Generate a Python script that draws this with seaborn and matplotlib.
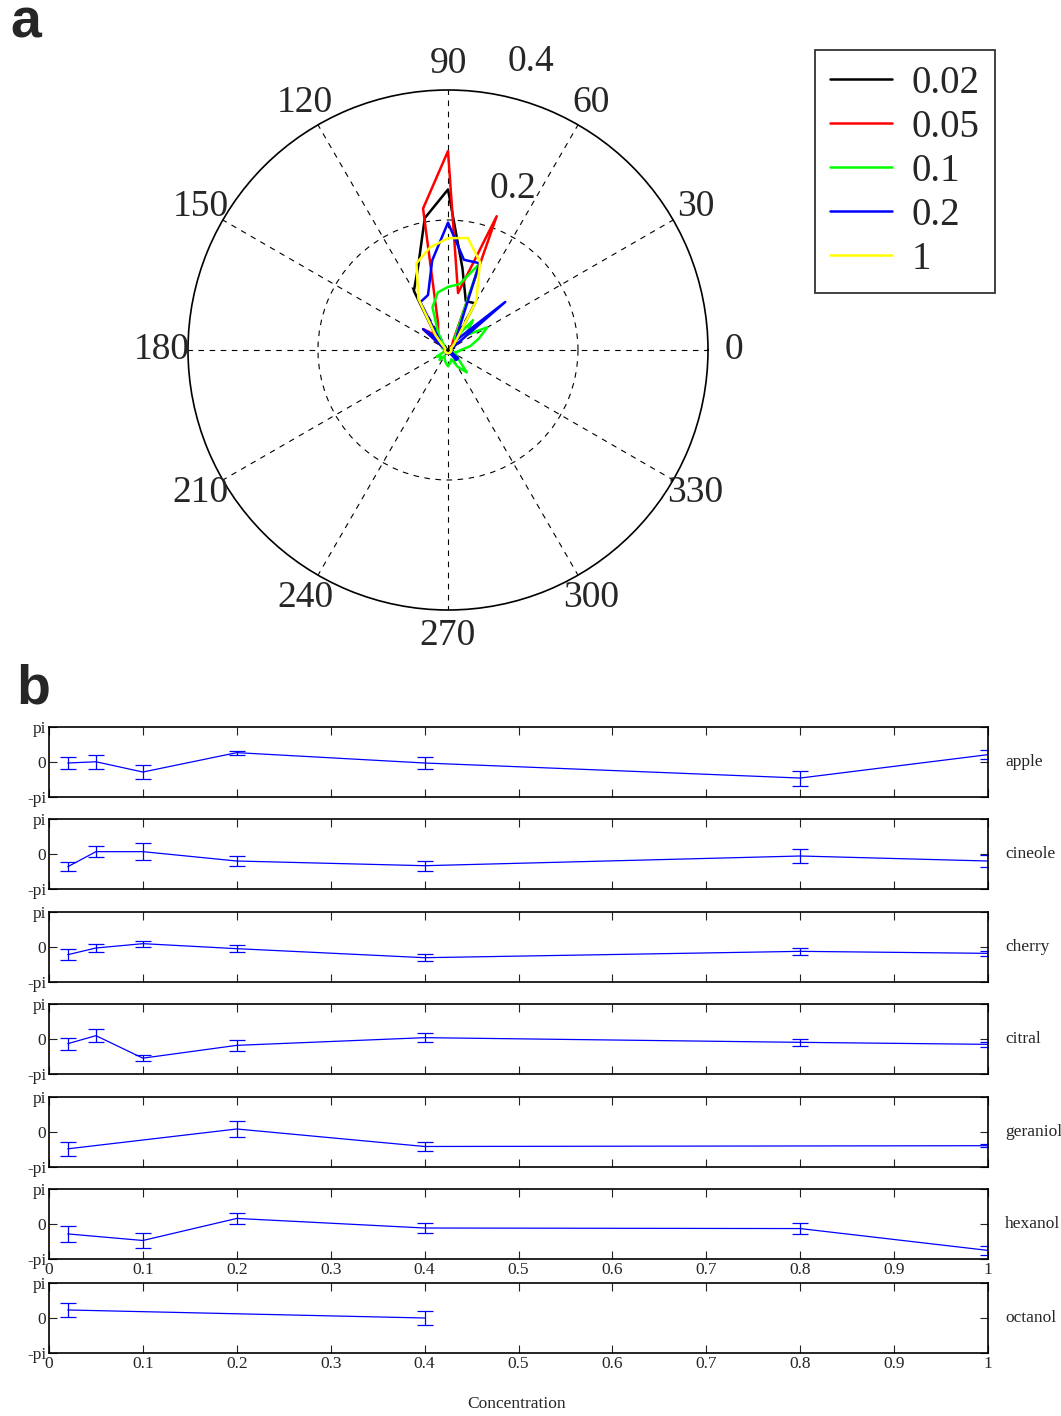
import numpy as np
import pandas as pd
import matplotlib
matplotlib.use("Agg")
import matplotlib.pyplot as plt
from matplotlib.lines import Line2D
import seaborn as sns

# ---------------- data: panel a (polar histogram of directions) ----------------
theta_deg = list(range(0, 360, 10))
series_labels = ["0.02", "0.05", "0.1", "0.2", "1"]
series_colors = ["black", "red", "#00ff00", "blue", "yellow"]

r_002 = [0.005, 0.005, 0.01, 0.01, 0.015, 0.02, 0.083, 0.08, 0.128, 0.247, 0.206, 0.135,
         0.105, 0.03, 0.02, 0.01, 0.005, 0.005, 0.005, 0.005, 0.005, 0.005, 0.005, 0.005,
         0.005, 0.005, 0.005, 0.005, 0.005, 0.005, 0.005, 0.005, 0.005, 0.005, 0.005, 0.005]
r_005 = [0.005, 0.005, 0.005, 0.005, 0.005, 0.01, 0.015, 0.219, 0.089, 0.306, 0.221, 0.045,
         0.03, 0.03, 0.05, 0.01, 0.005, 0.005, 0.005, 0.005, 0.005, 0.005, 0.005, 0.005,
         0.005, 0.005, 0.005, 0.005, 0.005, 0.005, 0.005, 0.005, 0.005, 0.005, 0.005, 0.005]
r_01 = [0.02, 0.035, 0.05, 0.07, 0.035, 0.06, 0.02, 0.141, 0.103, 0.097, 0.09, 0.07,
        0.03, 0.01, 0.02, 0.005, 0.01, 0.005, 0.005, 0.005, 0.005, 0.02, 0.015, 0.02,
        0.01, 0.015, 0.02, 0.025, 0.02, 0.015, 0.03, 0.045, 0.02, 0.015, 0.01, 0.015]
r_02 = [0.005, 0.005, 0.005, 0.01, 0.115, 0.02, 0.03, 0.142, 0.141, 0.196, 0.14, 0.09,
        0.085, 0.02, 0.05, 0.01, 0.005, 0.005, 0.005, 0.005, 0.005, 0.005, 0.005, 0.005,
        0.005, 0.005, 0.005, 0.005, 0.005, 0.005, 0.005, 0.02, 0.02, 0.005, 0.005, 0.005]
r_1 = [0.005, 0.005, 0.005, 0.005, 0.01, 0.02, 0.087, 0.144, 0.175, 0.172, 0.16, 0.142,
       0.091, 0.03, 0.01, 0.005, 0.005, 0.005, 0.005, 0.005, 0.005, 0.005, 0.005, 0.005,
       0.005, 0.005, 0.005, 0.005, 0.005, 0.005, 0.005, 0.005, 0.005, 0.005, 0.005, 0.005]
polar_series = [r_002, r_005, r_01, r_02, r_1]

angle_ticks = list(range(0, 360, 30))
angle_tick_labels = [str(a) for a in angle_ticks]

# ---------------- data: panel b (phase vs concentration) ----------------
odors = ["apple", "cineole", "cherry", "citral", "geraniol", "hexanol", "octanol"]
conc_apple = [0.02, 0.05, 0.1, 0.2, 0.4, 0.8, 1.0]
mean_apple = [-0.09, 0.02, -0.9, 0.84, -0.09, -1.44, 0.66]
err_apple = [0.52, 0.63, 0.64, 0.19, 0.52, 0.67, 0.42]

conc_cineole = [0.02, 0.05, 0.1, 0.2, 0.4, 0.8, 1.0]
mean_cineole = [-1.14, 0.21, 0.21, -0.63, -1.05, -0.18, -0.63]
err_cineole = [0.40, 0.49, 0.79, 0.46, 0.45, 0.60, 0.52]

conc_cherry = [0.02, 0.05, 0.1, 0.2, 0.4, 0.8, 1.0]
mean_cherry = [-0.69, -0.09, 0.30, -0.15, -0.96, -0.39, -0.57]
err_cherry = [0.48, 0.40, 0.26, 0.33, 0.33, 0.33, 0.22]

conc_citral = [0.02, 0.05, 0.1, 0.2, 0.4, 0.8, 1.0]
mean_citral = [-0.42, 0.30, -1.72, -0.57, 0.12, -0.30, -0.48]
err_citral = [0.54, 0.60, 0.24, 0.48, 0.38, 0.30, 0.22]

conc_geraniol = [0.02, 0.2, 0.4, 1.0]
mean_geraniol = [-1.51, 0.27, -1.30, -1.23]
err_geraniol = [0.65, 0.69, 0.44, 0.12]

conc_hexanol = [0.02, 0.1, 0.2, 0.4, 0.8, 1.0]
mean_hexanol = [-0.89, -1.48, 0.50, -0.36, -0.41, -2.37]
err_hexanol = [0.71, 0.70, 0.53, 0.47, 0.49, 0.40]

conc_octanol = [0.02, 0.4]
mean_octanol = [0.72, 0.0]
err_octanol = [0.61, 0.61]

panel_conc = [conc_apple, conc_cineole, conc_cherry, conc_citral, conc_geraniol, conc_hexanol, conc_octanol]
panel_mean = [mean_apple, mean_cineole, mean_cherry, mean_citral, mean_geraniol, mean_hexanol, mean_octanol]
panel_err = [err_apple, err_cineole, err_cherry, err_citral, err_geraniol, err_hexanol, err_octanol]

x_ticks = [0, 0.1, 0.2, 0.3, 0.4, 0.5, 0.6, 0.7, 0.8, 0.9, 1]
x_tick_labels = ["0", "0.1", "0.2", "0.3", "0.4", "0.5", "0.6", "0.7", "0.8", "0.9", "1"]
y_tick_labels = ["-pi", "0", "pi"]

# ---------------- figure ----------------
sns.set_theme(style="white")
plt.rcParams['font.family'] = ['Liberation Serif', 'DejaVu Serif']

W, H = 1061, 1416
fig = plt.figure(figsize=(W / 100, H / 100), dpi=100)
fig.patch.set_facecolor("white")

BIG = 27
LEG = 28
SMALL = 12.5

# ---- panel a: polar ----
axp = fig.add_axes([188 / W, 1 - 610 / H, 520 / W, 520 / H], projection="polar")
axp.set_facecolor("white")
axp.set_ylim(0, 0.4)
axp.set_xticks(np.deg2rad(angle_ticks))
axp.set_xticklabels([])
axp.set_yticks([0.2])
axp.set_yticklabels([])
axp.grid(True, color="black", linestyle=(0, (5, 5)), linewidth=0.8)
axp.spines["polar"].set_color("black")
axp.spines["polar"].set_linewidth(1.2)
axp.tick_params(length=0)

for r_vals, col, lab in zip(polar_series, series_colors, series_labels):
    th = np.deg2rad(theta_deg + [360])
    rr = list(r_vals) + [r_vals[0]]
    df = pd.DataFrame({"theta": th, "r": rr})
    sns.lineplot(data=df, x="theta", y="r", sort=False, ax=axp, color=col,
                 linewidth=1.8, legend=False, estimator=None)
axp.set_xlabel("")
axp.set_ylabel("")

for a, lab in zip(angle_ticks, angle_tick_labels):
    axp.text(np.deg2rad(a), 0.44, lab, ha="center", va="center", fontsize=BIG,
             clip_on=False)
axp.text(np.deg2rad(68), 0.268, "0.2", ha="center", va="center", fontsize=BIG)
axp.text(np.deg2rad(74), 0.462, "0.4", ha="center", va="center", fontsize=BIG, clip_on=False)

handles = [Line2D([0], [0], color=c, lw=1.8) for c in series_colors]
leg = fig.legend(handles, series_labels, loc="upper left",
                 bbox_to_anchor=(815 / W, 1 - 50 / H), frameon=True, fancybox=False,
                 fontsize=LEG, handlelength=1.6, handletextpad=0.51, labelspacing=0.18,
                 borderpad=0.38, borderaxespad=0.0)
leg.get_frame().set_edgecolor("black")
leg.get_frame().set_linewidth(1.3)

fig.text(10 / W, 1 - 24 / H, "a", fontsize=40, fontweight="bold",
         family="Liberation Sans", ha="left", va="center")
fig.text(16 / W, 1 - 690 / H, "b", fontsize=40, fontweight="bold",
         family="Liberation Sans", ha="left", va="center")

# ---- panel b: stacked line panels ----
tops = [727, 819, 912, 1004, 1097, 1189, 1283]
for i, (name, top) in enumerate(zip(odors, tops)):
    ax = fig.add_axes([49 / W, 1 - (top + 70) / H, 939 / W, 70 / H])
    ax.set_facecolor("white")
    df = pd.DataFrame({"conc": panel_conc[i], "phase": panel_mean[i]})
    sns.lineplot(data=df, x="conc", y="phase", ax=ax, color="blue", linewidth=0.9,
                 legend=False, estimator=None)
    ax.errorbar(panel_conc[i], panel_mean[i], yerr=panel_err[i], fmt="none",
                ecolor="blue", elinewidth=0.9, capsize=6, capthick=0.9)
    ax.set_xlim(0, 1)
    ax.set_ylim(-np.pi, np.pi)
    ax.set_yticks([-np.pi, 0, np.pi])
    ax.set_yticklabels(y_tick_labels)
    ax.set_xticks(x_ticks)
    ax.set_xticklabels(x_tick_labels)
    ax.set_xlabel("")
    ax.set_ylabel("")
    ax.tick_params(axis="both", direction="in", length=6, width=0.8, color="#222222",
                   labelsize=SMALL, top=True, right=True, bottom=True, left=True, pad=2)
    if i < 5:
        ax.tick_params(axis="x", labelbottom=False)
    for sp in ax.spines.values():
        sp.set_visible(True)
        sp.set_color("black")
        sp.set_linewidth(1.2)
    ax.text(1.018, 0.5, name, transform=ax.transAxes, ha="left", va="center", fontsize=SMALL)

fig.text(517 / W, 1 - 1404 / H, "Concentration", ha="center", va="center", fontsize=SMALL)

fig.savefig("out.png", dpi=100, facecolor="white")
